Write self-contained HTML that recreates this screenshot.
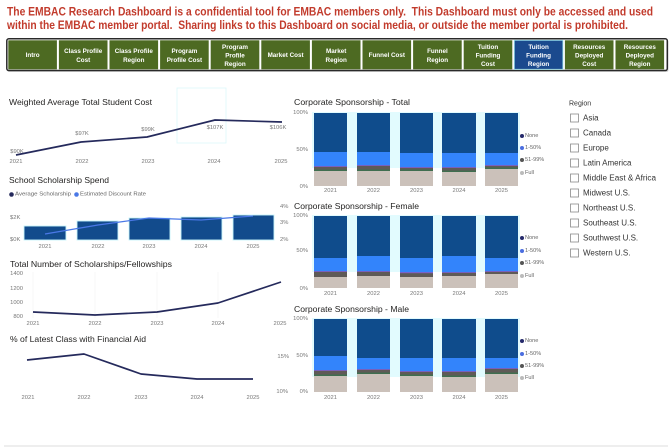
<!DOCTYPE html>
<html>
<head>
<meta charset="utf-8">
<style>
html,body{margin:0;padding:0;background:#fff;width:670px;height:447px;overflow:hidden;}
svg{display:block;}
text{font-family:"Liberation Sans",Arial,sans-serif;}
.t{fill:#252423;font-size:8.6px;}
.ax{fill:#777;font-size:5.8px;}
.lg{fill:#666;font-size:5.6px;}
.nb{fill:#fff;font-size:6.3px;font-weight:bold;}
.rg{fill:#333;font-size:8px;}
</style>
</head>
<body>
<svg width="670" height="447" viewBox="0 0 670 447" xmlns="http://www.w3.org/2000/svg">
<!-- Header text -->
<text x="7" y="15.5" fill="#c23b2c" font-size="11.6" font-weight="bold" textLength="646" lengthAdjust="spacingAndGlyphs" style="white-space:pre">The EMBAC Research Dashboard is a confidential tool for EMBAC members only.  This Dashboard must only be accessed and used</text>
<text x="7" y="29" fill="#c23b2c" font-size="11.6" font-weight="bold" textLength="621" lengthAdjust="spacingAndGlyphs" style="white-space:pre">within the EMBAC member portal.  Sharing links to this Dashboard on social media, or outside the member portal is prohibited.</text>

<!-- Nav bar -->
<rect x="7.5" y="40" width="661" height="32" rx="2" fill="#bdbdbd" opacity="0.6"/>
<rect x="6.8" y="38.8" width="660.5" height="31.7" rx="2" fill="#fff" stroke="#2a2a2a" stroke-width="1.5"/>
<g>
<rect x="8.3" y="40.3" width="48.6" height="29" fill="#4d6a22"/>
<rect x="58.9" y="40.3" width="48.6" height="29" fill="#4d6a22"/>
<rect x="109.5" y="40.3" width="48.6" height="29" fill="#4d6a22"/>
<rect x="160.1" y="40.3" width="48.6" height="29" fill="#4d6a22"/>
<rect x="210.7" y="40.3" width="48.6" height="29" fill="#4d6a22"/>
<rect x="261.3" y="40.3" width="48.6" height="29" fill="#4d6a22"/>
<rect x="311.9" y="40.3" width="48.6" height="29" fill="#4d6a22"/>
<rect x="362.5" y="40.3" width="48.6" height="29" fill="#4d6a22"/>
<rect x="413.1" y="40.3" width="48.6" height="29" fill="#4d6a22"/>
<rect x="463.7" y="40.3" width="48.6" height="29" fill="#4d6a22"/>
<rect x="514.3" y="40.3" width="48.6" height="29" fill="#1b4a8e" stroke="#9fe6f0" stroke-width="0.8"/>
<rect x="564.9" y="40.3" width="48.6" height="29" fill="#4d6a22"/>
<rect x="615.5" y="40.3" width="48.6" height="29" fill="#4d6a22"/>
</g>
<g text-anchor="middle" class="nb">
<text class="nb" x="32.6" y="57.2">Intro</text>
<text class="nb" x="83.2" y="53.2">Class Profile</text><text class="nb" x="83.2" y="62">Cost</text>
<text class="nb" x="133.8" y="53.2">Class Profile</text><text class="nb" x="133.8" y="62">Region</text>
<text class="nb" x="184.4" y="53.2">Program</text><text class="nb" x="184.4" y="62">Profile Cost</text>
<text class="nb" x="235" y="49">Program</text><text class="nb" x="235" y="57.6">Profile</text><text class="nb" x="235" y="66.2">Region</text>
<text class="nb" x="285.6" y="57.2">Market Cost</text>
<text class="nb" x="336.2" y="53.2">Market</text><text class="nb" x="336.2" y="62">Region</text>
<text class="nb" x="386.8" y="57.2">Funnel Cost</text>
<text class="nb" x="437.4" y="53.2">Funnel</text><text class="nb" x="437.4" y="62">Region</text>
<text class="nb" x="488" y="49">Tuition</text><text class="nb" x="488" y="57.6">Funding</text><text class="nb" x="488" y="66.2">Cost</text>
<text class="nb" x="538.6" y="49">Tuition</text><text class="nb" x="538.6" y="57.6">Funding</text><text class="nb" x="538.6" y="66.2">Region</text>
<text class="nb" x="589.2" y="49">Resources</text><text class="nb" x="589.2" y="57.6">Deployed</text><text class="nb" x="589.2" y="66.2">Cost</text>
<text class="nb" x="639.8" y="49">Resources</text><text class="nb" x="639.8" y="57.6">Deployed</text><text class="nb" x="639.8" y="66.2">Region</text>
</g>

<!-- Weighted Average Total Student Cost -->
<rect x="177" y="88" width="49" height="55" fill="none" stroke="#dcf7fb" stroke-width="0.8"/>
<text class="t" x="9" y="102" dominant-baseline="central" textLength="143" lengthAdjust="spacingAndGlyphs">Weighted Average Total Student Cost</text>
<g class="ax" text-anchor="middle">
<text class="ax" x="17" y="152" dominant-baseline="central">$90K</text>
<text class="ax" x="82" y="134" dominant-baseline="central">$97K</text>
<text class="ax" x="148" y="130" dominant-baseline="central">$99K</text>
<text class="ax" x="215" y="128" dominant-baseline="central">$107K</text>
<text class="ax" x="278" y="128" dominant-baseline="central">$106K</text>
</g>
<polyline points="16,155 81,142 147,137 215,120 282,122" fill="none" stroke="#252a5c" stroke-width="1.7" stroke-linejoin="round"/>
<g text-anchor="middle">
<text class="ax" x="16" y="162" dominant-baseline="central">2021</text>
<text class="ax" x="82" y="162" dominant-baseline="central">2022</text>
<text class="ax" x="148" y="162" dominant-baseline="central">2023</text>
<text class="ax" x="214" y="162" dominant-baseline="central">2024</text>
<text class="ax" x="281" y="162" dominant-baseline="central">2025</text>
</g>

<!-- School Scholarship Spend -->
<text class="t" x="9" y="180" dominant-baseline="central" textLength="100" lengthAdjust="spacingAndGlyphs">School Scholarship Spend</text>
<circle cx="11.5" cy="194.5" r="2.3" fill="#252a5c"/>
<text class="lg" x="15" y="194.5" dominant-baseline="central" textLength="56" lengthAdjust="spacingAndGlyphs">Average Scholarship</text>
<circle cx="76.5" cy="194.5" r="2.3" fill="#4a78e6"/>
<text class="lg" x="80" y="194.5" dominant-baseline="central" textLength="66" lengthAdjust="spacingAndGlyphs">Estimated Discount Rate</text>
<g fill="#124b8c" stroke="#c9f5fb" stroke-width="0.9">
<rect x="24" y="226" width="42" height="14"/>
<rect x="77" y="221" width="41" height="19"/>
<rect x="129" y="218" width="41" height="22"/>
<rect x="181" y="217" width="41" height="23"/>
<rect x="233" y="215" width="41" height="25"/>
</g>
<polyline points="45,234 98,225 149,218 201,220 253,216" fill="none" stroke="#4a78e6" stroke-width="1.3"/>
<text class="ax" x="10" y="218" dominant-baseline="central">$2K</text>
<text class="ax" x="10" y="240" dominant-baseline="central">$0K</text>
<text class="ax" x="280" y="207" dominant-baseline="central">4%</text>
<text class="ax" x="280" y="223" dominant-baseline="central">3%</text>
<text class="ax" x="280" y="240" dominant-baseline="central">2%</text>
<g text-anchor="middle">
<text class="ax" x="45" y="247" dominant-baseline="central">2021</text>
<text class="ax" x="98" y="247" dominant-baseline="central">2022</text>
<text class="ax" x="149" y="247" dominant-baseline="central">2023</text>
<text class="ax" x="201" y="247" dominant-baseline="central">2024</text>
<text class="ax" x="253" y="247" dominant-baseline="central">2025</text>
</g>

<!-- Total Number of Scholarships/Fellowships -->
<text class="t" x="10" y="264" dominant-baseline="central" textLength="162" lengthAdjust="spacingAndGlyphs">Total Number of Scholarships/Fellowships</text>
<g stroke="#f2f2f2" stroke-width="0.6">
<line x1="33" y1="272" x2="33" y2="318"/><line x1="95" y1="272" x2="95" y2="318"/><line x1="157" y1="272" x2="157" y2="318"/><line x1="218" y1="272" x2="218" y2="318"/>
</g>
<g text-anchor="end">
<text class="ax" x="23" y="274" dominant-baseline="central">1400</text>
<text class="ax" x="23" y="289" dominant-baseline="central">1200</text>
<text class="ax" x="23" y="303" dominant-baseline="central">1000</text>
<text class="ax" x="23" y="317" dominant-baseline="central">800</text>
</g>
<polyline points="33,312 95,315 157,312 218,303 281,282" fill="none" stroke="#252a5c" stroke-width="1.7" stroke-linejoin="round"/>
<g text-anchor="middle">
<text class="ax" x="33" y="324" dominant-baseline="central">2021</text>
<text class="ax" x="95" y="324" dominant-baseline="central">2022</text>
<text class="ax" x="157" y="324" dominant-baseline="central">2023</text>
<text class="ax" x="218" y="324" dominant-baseline="central">2024</text>
<text class="ax" x="280" y="324" dominant-baseline="central">2025</text>
</g>

<!-- % of Latest Class with Financial Aid -->
<text class="t" x="10" y="339" dominant-baseline="central" textLength="136" lengthAdjust="spacingAndGlyphs">% of Latest Class with Financial Aid</text>
<polyline points="27,360 84,354 141,374 197,379 253,379" fill="none" stroke="#252a5c" stroke-width="1.7" stroke-linejoin="round"/>
<text class="ax" x="289" y="357" text-anchor="end" dominant-baseline="central">15%</text>
<text class="ax" x="288" y="392" text-anchor="end" dominant-baseline="central">10%</text>
<g text-anchor="middle">
<text class="ax" x="28" y="398" dominant-baseline="central">2021</text>
<text class="ax" x="84" y="398" dominant-baseline="central">2022</text>
<text class="ax" x="141" y="398" dominant-baseline="central">2023</text>
<text class="ax" x="197" y="398" dominant-baseline="central">2024</text>
<text class="ax" x="253" y="398" dominant-baseline="central">2025</text>
</g>

<!-- Corporate Sponsorship - Total -->
<text class="t" x="294" y="102" dominant-baseline="central" textLength="116" lengthAdjust="spacingAndGlyphs">Corporate Sponsorship - Total</text>
<rect x="312" y="112" width="208" height="56" fill="#e2fbfe"/>
<g>
<rect x="314" y="113" width="33" height="39" fill="#0f4c8c"/><rect x="314" y="152" width="33" height="14" fill="#3384fb"/><rect x="314" y="166" width="33" height="5" fill="#5f5a57"/><rect x="314" y="166" width="33" height="0.9" fill="#7a62c8"/><rect x="314" y="169.5" width="33" height="1.5" fill="#3f6e4f"/><rect x="314" y="171" width="33" height="15" fill="#cbc1ba"/>
<rect x="357" y="113" width="33" height="39" fill="#0f4c8c"/><rect x="357" y="152" width="33" height="13" fill="#3384fb"/><rect x="357" y="165" width="33" height="6" fill="#5f5a57"/><rect x="357" y="165" width="33" height="0.9" fill="#7a62c8"/><rect x="357" y="169.5" width="33" height="1.5" fill="#3f6e4f"/><rect x="357" y="171" width="33" height="15" fill="#cbc1ba"/>
<rect x="400" y="113" width="33" height="40" fill="#0f4c8c"/><rect x="400" y="153" width="33" height="14" fill="#3384fb"/><rect x="400" y="167" width="33" height="4" fill="#5f5a57"/><rect x="400" y="167" width="33" height="0.9" fill="#7a62c8"/><rect x="400" y="169.5" width="33" height="1.5" fill="#3f6e4f"/><rect x="400" y="171" width="33" height="15" fill="#cbc1ba"/>
<rect x="442" y="113" width="34" height="40" fill="#0f4c8c"/><rect x="442" y="153" width="34" height="14" fill="#3384fb"/><rect x="442" y="167" width="34" height="5" fill="#5f5a57"/><rect x="442" y="167" width="34" height="0.9" fill="#7a62c8"/><rect x="442" y="170.5" width="34" height="1.5" fill="#3f6e4f"/><rect x="442" y="172" width="34" height="14" fill="#cbc1ba"/>
<rect x="485" y="113" width="33" height="40" fill="#0f4c8c"/><rect x="485" y="153" width="33" height="12" fill="#3384fb"/><rect x="485" y="165" width="33" height="4" fill="#5f5a57"/><rect x="485" y="165" width="33" height="0.9" fill="#7a62c8"/><rect x="485" y="167.5" width="33" height="1.5" fill="#3f6e4f"/><rect x="485" y="169" width="33" height="17" fill="#cbc1ba"/>
</g>
<g text-anchor="end">
<text class="ax" x="308" y="113" dominant-baseline="central">100%</text>
<text class="ax" x="308" y="150" dominant-baseline="central">50%</text>
<text class="ax" x="308" y="187" dominant-baseline="central">0%</text>
</g>
<g text-anchor="middle">
<text class="ax" x="330.5" y="191" dominant-baseline="central">2021</text>
<text class="ax" x="373.5" y="191" dominant-baseline="central">2022</text>
<text class="ax" x="416.5" y="191" dominant-baseline="central">2023</text>
<text class="ax" x="459" y="191" dominant-baseline="central">2024</text>
<text class="ax" x="501.5" y="191" dominant-baseline="central">2025</text>
</g>
<circle cx="522" cy="136" r="2" fill="#252a6b"/><text class="lg" x="525" y="136" dominant-baseline="central">None</text>
<circle cx="522" cy="148" r="2" fill="#4b6ee0"/><text class="lg" x="525" y="148" dominant-baseline="central">1-50%</text>
<circle cx="522" cy="160" r="2" fill="#555"/><text class="lg" x="525" y="160" dominant-baseline="central">51-99%</text>
<circle cx="522" cy="173" r="2" fill="#bbb"/><text class="lg" x="525" y="173" dominant-baseline="central">Full</text>

<!-- Corporate Sponsorship - Female -->
<text class="t" x="294" y="206" dominant-baseline="central" textLength="125" lengthAdjust="spacingAndGlyphs">Corporate Sponsorship - Female</text>
<rect x="312" y="215" width="208" height="57" fill="#e2fbfe"/>
<g>
<rect x="314" y="216" width="33" height="42" fill="#0f4c8c"/><rect x="314" y="258" width="33" height="13" fill="#3384fb"/><rect x="314" y="271" width="33" height="6" fill="#5f5a57"/><rect x="314" y="271" width="33" height="0.9" fill="#7a62c8"/><rect x="314" y="277" width="33" height="11" fill="#cbc1ba"/>
<rect x="357" y="216" width="33" height="40" fill="#0f4c8c"/><rect x="357" y="256" width="33" height="15" fill="#3384fb"/><rect x="357" y="271" width="33" height="5" fill="#5f5a57"/><rect x="357" y="271" width="33" height="0.9" fill="#7a62c8"/><rect x="357" y="276" width="33" height="12" fill="#cbc1ba"/>
<rect x="400" y="216" width="33" height="42" fill="#0f4c8c"/><rect x="400" y="258" width="33" height="14" fill="#3384fb"/><rect x="400" y="272" width="33" height="5" fill="#5f5a57"/><rect x="400" y="272" width="33" height="1.2" fill="#7a62c8"/><rect x="400" y="277" width="33" height="11" fill="#cbc1ba"/>
<rect x="442" y="216" width="34" height="40" fill="#0f4c8c"/><rect x="442" y="256" width="34" height="16" fill="#3384fb"/><rect x="442" y="272" width="34" height="4" fill="#5f5a57"/><rect x="442" y="272" width="34" height="0.9" fill="#7a62c8"/><rect x="442" y="276" width="34" height="12" fill="#cbc1ba"/>
<rect x="485" y="216" width="33" height="42" fill="#0f4c8c"/><rect x="485" y="258" width="33" height="13" fill="#3384fb"/><rect x="485" y="271" width="33" height="3" fill="#5f5a57"/><rect x="485" y="271" width="33" height="0.9" fill="#7a62c8"/><rect x="485" y="274" width="33" height="14" fill="#cbc1ba"/>
</g>
<g text-anchor="end">
<text class="ax" x="308" y="216" dominant-baseline="central">100%</text>
<text class="ax" x="308" y="251" dominant-baseline="central">50%</text>
<text class="ax" x="308" y="289" dominant-baseline="central">0%</text>
</g>
<g text-anchor="middle">
<text class="ax" x="330.5" y="294" dominant-baseline="central">2021</text>
<text class="ax" x="373.5" y="294" dominant-baseline="central">2022</text>
<text class="ax" x="416.5" y="294" dominant-baseline="central">2023</text>
<text class="ax" x="459" y="294" dominant-baseline="central">2024</text>
<text class="ax" x="501.5" y="294" dominant-baseline="central">2025</text>
</g>
<circle cx="522" cy="238" r="2" fill="#252a6b"/><text class="lg" x="525" y="238" dominant-baseline="central">None</text>
<circle cx="522" cy="251" r="2" fill="#4b6ee0"/><text class="lg" x="525" y="251" dominant-baseline="central">1-50%</text>
<circle cx="522" cy="263" r="2" fill="#555"/><text class="lg" x="525" y="263" dominant-baseline="central">51-99%</text>
<circle cx="522" cy="276" r="2" fill="#bbb"/><text class="lg" x="525" y="276" dominant-baseline="central">Full</text>

<!-- Corporate Sponsorship - Male -->
<text class="t" x="294" y="309" dominant-baseline="central" textLength="115" lengthAdjust="spacingAndGlyphs">Corporate Sponsorship - Male</text>
<rect x="312" y="318" width="208" height="59" fill="#e2fbfe"/>
<g>
<rect x="314" y="319" width="33" height="37" fill="#0f4c8c"/><rect x="314" y="356" width="33" height="14" fill="#3384fb"/><rect x="314" y="370" width="33" height="6" fill="#5f5a57"/><rect x="314" y="370" width="33" height="0.9" fill="#7a62c8"/><rect x="314" y="374.5" width="33" height="1.5" fill="#3f6e4f"/><rect x="314" y="376" width="33" height="16" fill="#cbc1ba"/>
<rect x="357" y="319" width="33" height="39" fill="#0f4c8c"/><rect x="357" y="358" width="33" height="11" fill="#3384fb"/><rect x="357" y="369" width="33" height="5" fill="#5f5a57"/><rect x="357" y="369" width="33" height="0.9" fill="#7a62c8"/><rect x="357" y="372.5" width="33" height="1.5" fill="#3f6e4f"/><rect x="357" y="374" width="33" height="18" fill="#cbc1ba"/>
<rect x="400" y="319" width="33" height="39" fill="#0f4c8c"/><rect x="400" y="358" width="33" height="13" fill="#3384fb"/><rect x="400" y="371" width="33" height="5" fill="#5f5a57"/><rect x="400" y="371" width="33" height="0.9" fill="#7a62c8"/><rect x="400" y="374.5" width="33" height="1.5" fill="#3f6e4f"/><rect x="400" y="376" width="33" height="16" fill="#cbc1ba"/>
<rect x="442" y="319" width="34" height="39" fill="#0f4c8c"/><rect x="442" y="358" width="34" height="13" fill="#3384fb"/><rect x="442" y="371" width="34" height="6" fill="#5f5a57"/><rect x="442" y="371" width="34" height="0.9" fill="#7a62c8"/><rect x="442" y="375.5" width="34" height="1.5" fill="#3f6e4f"/><rect x="442" y="377" width="34" height="15" fill="#cbc1ba"/>
<rect x="485" y="319" width="33" height="39" fill="#0f4c8c"/><rect x="485" y="358" width="33" height="10" fill="#3384fb"/><rect x="485" y="368" width="33" height="6" fill="#5f5a57"/><rect x="485" y="368" width="33" height="0.9" fill="#7a62c8"/><rect x="485" y="372.5" width="33" height="1.5" fill="#3f6e4f"/><rect x="485" y="374" width="33" height="18" fill="#cbc1ba"/>
</g>
<g text-anchor="end">
<text class="ax" x="308" y="319" dominant-baseline="central">100%</text>
<text class="ax" x="308" y="356" dominant-baseline="central">50%</text>
<text class="ax" x="308" y="392" dominant-baseline="central">0%</text>
</g>
<g text-anchor="middle">
<text class="ax" x="330.5" y="398" dominant-baseline="central">2021</text>
<text class="ax" x="373.5" y="398" dominant-baseline="central">2022</text>
<text class="ax" x="416.5" y="398" dominant-baseline="central">2023</text>
<text class="ax" x="459" y="398" dominant-baseline="central">2024</text>
<text class="ax" x="501.5" y="398" dominant-baseline="central">2025</text>
</g>
<circle cx="522" cy="341" r="2" fill="#252a6b"/><text class="lg" x="525" y="341" dominant-baseline="central">None</text>
<circle cx="522" cy="354" r="2" fill="#4b6ee0"/><text class="lg" x="525" y="354" dominant-baseline="central">1-50%</text>
<circle cx="522" cy="366" r="2" fill="#555"/><text class="lg" x="525" y="366" dominant-baseline="central">51-99%</text>
<circle cx="522" cy="378" r="2" fill="#bbb"/><text class="lg" x="525" y="378" dominant-baseline="central">Full</text>

<!-- Region slicer -->
<text x="569" y="104" dominant-baseline="central" fill="#333" font-size="7px">Region</text>
<g fill="#fff" stroke="#8a8a8a" stroke-width="0.8">
<rect x="570.5" y="114" width="8" height="8"/>
<rect x="570.5" y="129" width="8" height="8"/>
<rect x="570.5" y="144" width="8" height="8"/>
<rect x="570.5" y="159" width="8" height="8"/>
<rect x="570.5" y="174" width="8" height="8"/>
<rect x="570.5" y="189" width="8" height="8"/>
<rect x="570.5" y="204" width="8" height="8"/>
<rect x="570.5" y="219" width="8" height="8"/>
<rect x="570.5" y="234" width="8" height="8"/>
<rect x="570.5" y="249" width="8" height="8"/>
</g>
<text class="rg" x="583" y="118" dominant-baseline="central">Asia</text>
<text class="rg" x="583" y="133" dominant-baseline="central">Canada</text>
<text class="rg" x="583" y="148" dominant-baseline="central">Europe</text>
<text class="rg" x="583" y="163" dominant-baseline="central">Latin America</text>
<text class="rg" x="583" y="178" dominant-baseline="central" textLength="73" lengthAdjust="spacingAndGlyphs">Middle East &amp; Africa</text>
<text class="rg" x="583" y="193" dominant-baseline="central">Midwest U.S.</text>
<text class="rg" x="583" y="208" dominant-baseline="central">Northeast U.S.</text>
<text class="rg" x="583" y="223" dominant-baseline="central">Southeast U.S.</text>
<text class="rg" x="583" y="238" dominant-baseline="central">Southwest U.S.</text>
<text class="rg" x="583" y="253" dominant-baseline="central">Western U.S.</text>

<!-- bottom strip -->
<rect x="4" y="445" width="664" height="2" fill="#eeeeee"/>
</svg>
</body>
</html>
